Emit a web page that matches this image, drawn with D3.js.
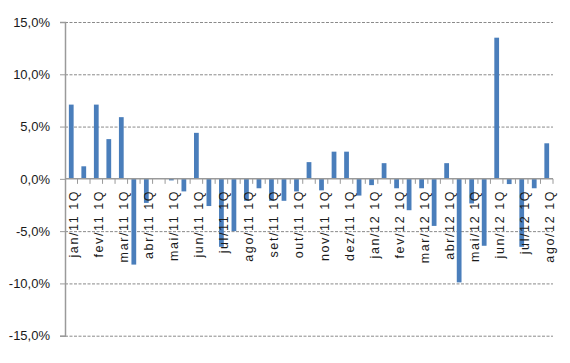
<!DOCTYPE html>
<html>
<head>
<meta charset="utf-8">
<script src="https://cdn.jsdelivr.net/npm/d3@7"></script>
<style>
  body { margin: 0; background: #fff; }
  text { font-family: "Liberation Sans", Arial, sans-serif; }
</style>
</head>
<body>
<script>
// categories: two per month, the last month only has 1Q
const categories = [
  "jan/11 1Q", "jan/11 2Q", "fev/11 1Q", "fev/11 2Q", "mar/11 1Q", "mar/11 2Q",
  "abr/11 1Q", "abr/11 2Q", "mai/11 1Q", "mai/11 2Q", "jun/11 1Q", "jun/11 2Q",
  "jul/11 1Q", "jul/11 2Q", "ago/11 1Q", "ago/11 2Q", "set/11 1Q", "set/11 2Q",
  "out/11 1Q", "out/11 2Q", "nov/11 1Q", "nov/11 2Q", "dez/11 1Q", "dez/11 2Q",
  "jan/12 1Q", "jan/12 2Q", "fev/12 1Q", "fev/12 2Q", "mar/12 1Q", "mar/12 2Q",
  "abr/12 1Q", "abr/12 2Q", "mai/12 1Q", "mai/12 2Q", "jun/12 1Q", "jun/12 2Q",
  "jul/12 1Q", "jul/12 2Q", "ago/12 1Q"
]

// values in %
const values = [
  7.1, 1.2, 7.1, 3.8, 5.9, -8.2,
  -2.3, 0.0, -0.15, -1.2, 4.4, -2.6,
  -6.5, -5.0, -2.1, -0.9, -2.1, -2.1,
  -1.2, 1.6, -1.1, 2.6, 2.6, -1.6,
  -0.6, 1.5, -0.9, -3.0, -0.9, -4.5,
  1.5, -9.9, -2.35, -6.4, 13.5, -0.5,
  -6.5, -0.9, 3.4
]

const yTicks = [-15, -10, -5, 0, 5, 10, 15]

const w = 570
const h = 363
const mLeft = 65
const mRight = 553
const mTop = 22
const mBottom = 335.7

const svg = d3.select("body")
              .append("svg")
              .attr("width", w)
              .attr("height", h)

const x = d3.scaleBand()
            .domain(categories)
            .range([mLeft, mRight])
            .padding(0)

const y = d3.scaleLinear()
            .domain([-15, 15])
            .range([mBottom, mTop])

const fmt = (d) => d3.format(".1f")(d).replace(".", ",").replace("−", "-") + "%"

// dashed gridlines
svg.append("g")
   .attr("transform", "translate(" + mLeft + ",0)")
   .call(d3.axisLeft(y).tickValues(yTicks.filter(d => d !== 0)).tickSize(-(mRight - mLeft)).tickFormat(""))
   .call(g => g.select(".domain").remove())
   .selectAll("line")
   .attr("stroke", "#8a8a8a")
   .attr("stroke-width", 1)
   .attr("stroke-dasharray", "3,1.5")

// y axis
const yAxis = svg.append("g")
   .attr("transform", "translate(" + mLeft + ",0)")
   .call(d3.axisLeft(y).tickValues(yTicks).tickSize(5).tickPadding(10).tickFormat(fmt))
yAxis.select(".domain").attr("stroke", "#9a9a9a").attr("stroke-width", 1.5)
yAxis.selectAll("line").attr("stroke", "#9a9a9a")
yAxis.selectAll("text")
     .attr("fill", "#1a1a1a")
     .style("font-size", "13px")
     .style("font-family", "'Liberation Sans', Arial, sans-serif")

// bars
const bw = x.step() * 0.38
svg.selectAll("rect.bar")
   .data(values)
   .enter()
   .append("rect")
   .attr("class", "bar")
   .attr("x", (d, i) => x(categories[i]) + (x.step() - bw) / 2)
   .attr("y", (d) => y(Math.max(0, d)))
   .attr("width", bw)
   .attr("height", (d) => Math.abs(y(d) - y(0)))
   .attr("fill", "#4a7ebb")

// x axis line and ticks at category boundaries
svg.append("line")
   .attr("x1", mLeft)
   .attr("x2", mRight)
   .attr("y1", y(0))
   .attr("y2", y(0))
   .attr("stroke", "#9a9a9a")
   .attr("stroke-width", 1.5)

const bounds = categories.map(c => x(c)).concat([mRight])
svg.selectAll("line.xtick")
   .data(bounds.slice(1))
   .enter()
   .append("line")
   .attr("class", "xtick")
   .attr("x1", d => d)
   .attr("x2", d => d)
   .attr("y1", y(0))
   .attr("y2", y(0) + 5)
   .attr("stroke", "#9a9a9a")

// rotated labels, every other category
svg.selectAll("text.xlab")
   .data(categories.filter((c, i) => i % 2 === 0))
   .enter()
   .append("text")
   .attr("class", "xlab")
   .attr("transform", (d) => "translate(" + (x(d) + x.step() / 2 + 7) + "," + (y(0) + 11) + ") rotate(-90)")
   .attr("text-anchor", "end")
   .style("font-size", "12.5px")
   .style("letter-spacing", "1.6px")
   .attr("fill", "#1a1a1a")
   .text(d => d)
</script>
</body>
</html>
